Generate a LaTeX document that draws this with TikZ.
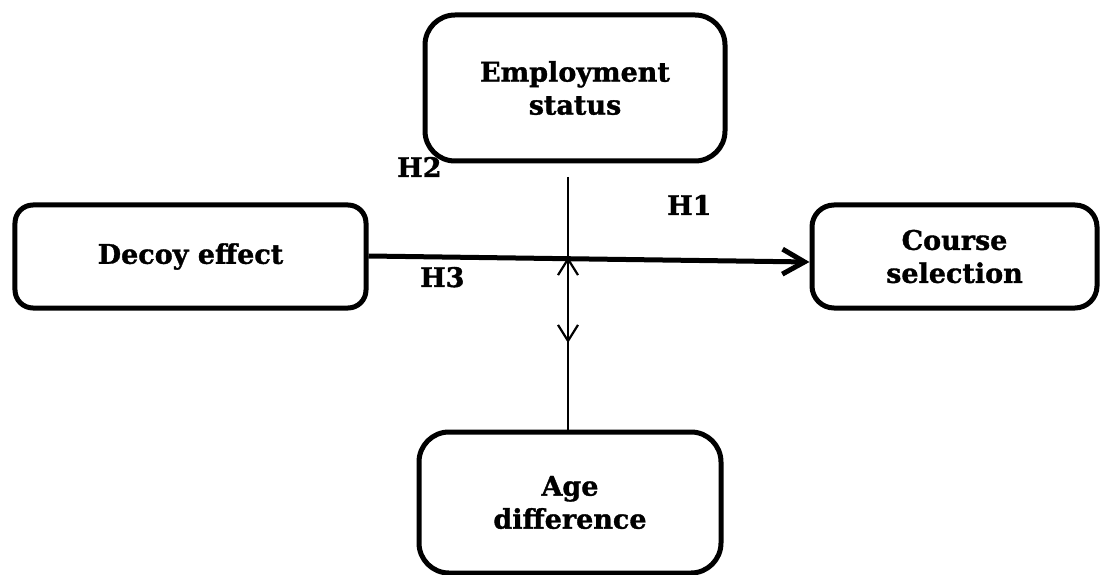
\documentclass[tikz,border=0pt]{standalone}
\usepackage{fontspec}
\setmainfont{DejaVu Serif}[BoldFeatures={FakeBold=1.3}]
\usetikzlibrary{arrows.meta}
\tikzset{
  box/.style={draw=black, line width=5bp, rectangle, align=center,
    font=\bfseries\fontsize{27bp}{33bp}\selectfont, inner sep=0pt},
  hlabel/.style={font=\bfseries\fontsize{27bp}{33bp}\selectfont, inner sep=0pt, anchor=base west},
  mainarrow/.style={line width=5bp, -{Straight Barb[length=22bp,width=25bp]}},
  thinarrow/.style={line width=2.2bp, -{Straight Barb[length=16bp,width=20bp]}}
}
\begin{document}
\begin{tikzpicture}[x=1bp,y=-1bp]
\useasboundingbox (0,0) rectangle (1102,575);
\node[box, rounded corners=18bp, minimum width=351bp, minimum height=103bp] (decoy) at (190.5,256.5) {Decoy effect};
\node[box, rounded corners=30bp, minimum width=300bp, minimum height=146bp] (emp) at (575,88) {Employment\\status};
\node[box, rounded corners=22bp, minimum width=285bp, minimum height=103bp] (course) at (954.5,256.5) {Course\\selection};
\node[box, rounded corners=30bp, minimum width=302bp, minimum height=141bp] (age) at (570,502.5) {Age\\difference};
\coordinate (vtop) at (568,177);
\coordinate (cross) at (568,257);
\coordinate (vmid) at (568,343);
\draw[mainarrow] ([yshift=0.5bp]decoy.east) -- ([yshift=-5.5bp]course.west);
\draw[thinarrow] (vtop) -- (vmid);
\draw[thinarrow] (cross |- age.north) -- (cross);
\node[hlabel] (h2) at (397,177) {H2};
\node[hlabel] (h1) at (667,215) {H1};
\node[hlabel] (h3) at (420,287) {H3};
\end{tikzpicture}
\end{document}
